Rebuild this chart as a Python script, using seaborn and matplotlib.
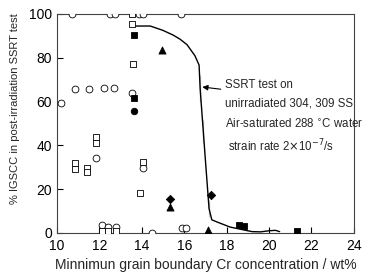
import numpy as np
import pandas as pd
import matplotlib
matplotlib.use("Agg")
import matplotlib.pyplot as plt
import seaborn as sns

# Data
open_circle_x = [10.7, 12.5, 12.75, 13.85, 14.05, 15.85, 10.2, 10.85, 11.5, 12.2, 12.7, 13.55,
                 11.85, 14.05, 12.1, 12.4, 12.8, 14.5, 15.9, 16.1]
open_circle_y = [100, 100, 100, 100, 100, 100, 59.5, 65.8, 65.7, 66.3, 66.3, 64,
                 34.2, 29.7, 3.6, 2.8, 2.6, 0, 2.3, 2.3]

open_square_x = [13.55, 13.55, 13.6, 10.85, 10.85, 11.4, 11.4, 11.85, 11.85, 14.05, 13.9,
                 12.1, 12.4, 12.8]
open_square_y = [100, 95.5, 77, 32, 29.2, 29.7, 27.8, 43.8, 41, 32.4, 18.3,
                 1.0, 1.0, 1.0]

filled_square_x = [13.63, 13.63, 18.6, 18.8, 21.3]
filled_square_y = [90.4, 61.6, 3.6, 3.2, 0.9]

filled_circle_x = [13.63]
filled_circle_y = [55.7]

filled_triangle_x = [14.95, 15.33, 17.12]
filled_triangle_y = [83.5, 11.9, 1.5]

filled_diamond_x = [15.33, 17.26]
filled_diamond_y = [15.5, 17.4]

curve_x = [13.7, 14.4, 15.0, 15.47, 15.8, 16.13, 16.5, 16.7, 16.75, 16.75, 16.84, 16.9, 16.9,
           17.0, 17.07, 17.17, 17.17, 17.3, 17.55, 18.16, 18.8, 19.2, 19.6, 20.0, 20.3, 20.5]
curve_y = [94.5, 94.5, 92.5, 90.4, 88.5, 86, 81, 76.7, 72, 60, 54, 51.6, 41,
           33, 24, 15, 7.3, 6.0, 5.0, 2.7, 1.4, 0.6, 0.5, 1.0, 1.2, 0.6]

sns.set_style("ticks")
plt.rcParams["font.family"] = ["Liberation Sans", "DejaVu Sans"]

fig = plt.figure(figsize=(3.69, 2.77), dpi=100)
ax = fig.add_axes([0.1545, 0.159, 0.8045, 0.7905])

curve = pd.DataFrame({"x": curve_x, "y": curve_y})
sns.lineplot(data=curve, x="x", y="y", sort=False, color="black", linewidth=1.0, ax=ax)

groups = [
    (open_circle_x, open_circle_y, "o", "white", 24),
    (open_square_x, open_square_y, "s", "white", 22),
    (filled_square_x, filled_square_y, "s", "black", 20),
    (filled_circle_x, filled_circle_y, "o", "black", 22),
    (filled_triangle_x, filled_triangle_y, "^", "black", 26),
    (filled_diamond_x, filled_diamond_y, "D", "black", 18),
]
for gx, gy, mk, fc, sz in groups:
    sns.scatterplot(x=gx, y=gy, marker=mk, s=sz, facecolor=fc, edgecolor="black",
                    linewidth=0.6, ax=ax, zorder=3)

ax.set_xlim(10, 24)
ax.set_ylim(0, 100)
ax.set_xticks(np.arange(10, 25, 2))
ax.set_yticks(np.arange(0, 101, 20))
ax.tick_params(direction="in", length=4, width=0.8, labelsize=10, colors="black")
ax.tick_params(axis="x", pad=4)
ax.tick_params(axis="y", pad=3.5)
for sp in ax.spines.values():
    sp.set_visible(True)
    sp.set_linewidth(0.8)
    sp.set_color("#444444")

ax.set_xlabel("Minnimun grain boundary Cr concentration / wt%", fontsize=10, labelpad=4)
ax.set_ylabel("% IGSCC in post-irradiation SSRT test", fontsize=8)
ax.yaxis.set_label_coords(-0.125, 0.57)

ax.annotate("", xy=(16.72, 66.8), xytext=(17.85, 65.5),
            arrowprops=dict(arrowstyle="-|>", color="black", lw=0.8, mutation_scale=8))
ax.text(17.92, 67.5, "SSRT test on", fontsize=8.3, va="center")
ax.text(17.92, 59.3, "unirradiated 304, 309 SS", fontsize=8.3, va="center")
ax.text(17.92, 49.5, "Air-saturated 288 $^{\\circ}$C water", fontsize=8.3, va="center")
ax.text(18.07, 39.5, "strain rate 2$\\times$10$^{-7}$/s", fontsize=8.3, va="center")

fig.savefig("out.png", dpi=100)
